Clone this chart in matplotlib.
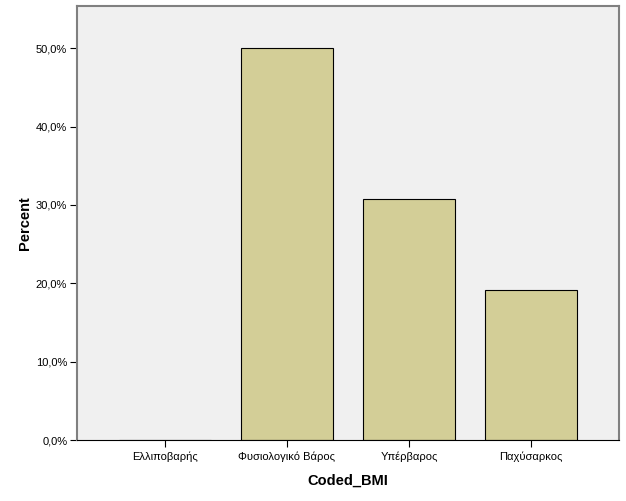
import matplotlib.pyplot as plt
from matplotlib.ticker import FuncFormatter

categories = ['Ελλιποβαρής', 'Φυσιολογικό Βάρος', 'Υπέρβαρος', 'Παχύσαρκος']
percents = [0.0, 50.0, 30.8, 19.2]

plt.rcParams['font.family'] = ['Liberation Sans', 'DejaVu Sans']

fig = plt.figure(figsize=(6.26, 5.01), dpi=100)
ax = fig.add_axes([77/626, 61/501, 542/626, 434/501])
ax.set_facecolor('#f0f0f0')

x = range(len(categories))
ax.bar(x, percents, width=0.754, color='#d3ce97', edgecolor='black', linewidth=0.8)

ax.set_xlim(-0.72, 3.72)
ax.set_ylim(0, 55.4)
ax.set_xticks(list(x))
ax.set_xticklabels(categories, fontsize=8)
ax.set_yticks([0, 10, 20, 30, 40, 50])
ax.yaxis.set_major_formatter(FuncFormatter(lambda v, p: f'{v:.1f}%'.replace('.', ',')))
ax.tick_params(axis='y', labelsize=8, length=5, width=0.8, pad=2)
ax.tick_params(axis='x', length=5, width=0.8, pad=3)

for s in ['top', 'right', 'left']:
    ax.spines[s].set_color('#808080')
    ax.spines[s].set_linewidth(1.5)
ax.spines['bottom'].set_color('black')
ax.spines['bottom'].set_linewidth(0.8)
ax.tick_params(axis='y', color='black')

ax.set_ylabel('Percent', fontsize=10.5, fontweight='bold', labelpad=3)
ax.set_xlabel('Coded_BMI', fontsize=10.5, fontweight='bold', labelpad=9)

fig.savefig('out.png', dpi=100)
